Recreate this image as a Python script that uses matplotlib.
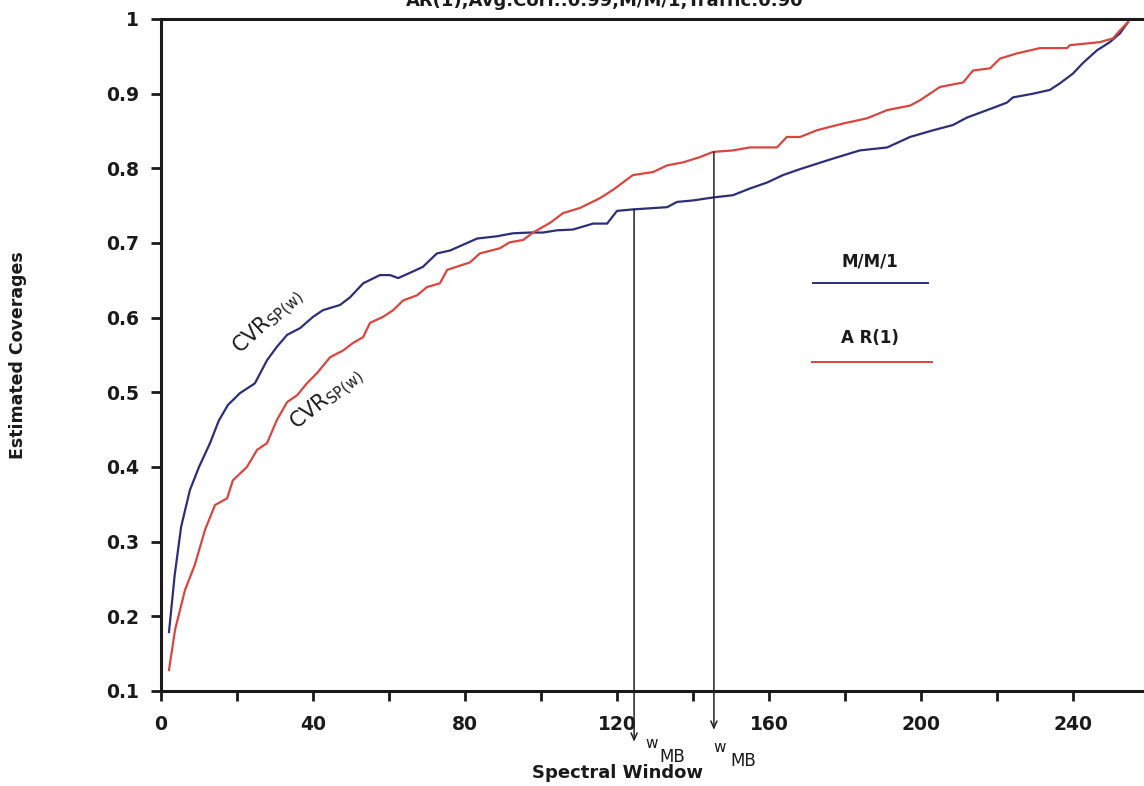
import matplotlib
matplotlib.use("Agg")
import matplotlib.pyplot as plt
import numpy as np

# M/M/1 estimated coverage vs spectral window
mm1_w = [2.1, 3.6, 5.3, 7.6, 10.0, 12.9, 15.2, 17.6, 20.8, 24.7, 27.9, 30.5, 33.2, 36.6,
         40.0, 42.6, 47.1, 49.7, 53.2, 57.6, 60.3, 62.4, 65.5, 68.9, 72.6, 76.1, 83.2,
         88.4, 92.6, 97.1, 100.5, 104.2, 108.4, 113.7, 117.4, 120.0, 124.2, 133.2,
         135.8, 140.0, 145.3, 150.5, 155.0, 159.5, 163.7, 168.2, 176.8, 183.9, 191.1,
         197.1, 203.2, 208.4, 212.1, 217.4, 222.6, 224.2, 229.5, 233.9, 236.6, 240.0,
         242.6, 246.3, 249.7, 252.4, 254.5]
mm1_cov = [0.179, 0.255, 0.320, 0.369, 0.400, 0.432, 0.462, 0.483, 0.499, 0.512, 0.543,
           0.561, 0.577, 0.586, 0.601, 0.610, 0.617, 0.627, 0.646, 0.657, 0.657, 0.653,
           0.660, 0.668, 0.686, 0.690, 0.706, 0.709, 0.713, 0.714, 0.714, 0.717, 0.718,
           0.726, 0.726, 0.743, 0.745, 0.748, 0.755, 0.757, 0.761, 0.764, 0.773, 0.781,
           0.791, 0.799, 0.813, 0.824, 0.828, 0.842, 0.851, 0.858, 0.868, 0.878, 0.888,
           0.895, 0.900, 0.905, 0.914, 0.927, 0.941, 0.958, 0.969, 0.981, 0.996]

# AR(1) estimated coverage vs spectral window
ar1_w = [2.1, 3.7, 6.3, 8.9, 11.6, 14.2, 17.4, 18.9, 22.6, 25.3, 27.9, 30.5, 33.2, 35.8,
         38.4, 41.1, 44.5, 47.9, 50.5, 53.2, 55.0, 58.4, 61.1, 63.7, 67.4, 70.0, 73.4,
         75.3, 81.3, 83.9, 89.2, 91.8, 95.3, 97.9, 102.4, 105.8, 110.3, 115.5, 118.9,
         124.2, 129.5, 133.2, 137.4, 141.8, 145.3, 150.5, 155.0, 162.1, 164.7, 168.2,
         172.6, 179.5, 185.8, 191.1, 197.1, 199.7, 205.0, 211.1, 213.7, 218.2, 220.8,
         225.3, 231.3, 238.4, 239.2, 247.1, 250.5, 252.4, 254.5]
ar1_cov = [0.128, 0.182, 0.235, 0.269, 0.316, 0.349, 0.358, 0.382, 0.400, 0.423, 0.432,
           0.463, 0.487, 0.496, 0.512, 0.526, 0.547, 0.556, 0.566, 0.574, 0.593, 0.601,
           0.610, 0.623, 0.630, 0.641, 0.646, 0.664, 0.674, 0.686, 0.693, 0.701, 0.704,
           0.714, 0.727, 0.740, 0.747, 0.760, 0.771, 0.791, 0.795, 0.804, 0.808, 0.815,
           0.822, 0.824, 0.828, 0.828, 0.842, 0.842, 0.851, 0.860, 0.867, 0.878, 0.884,
           0.891, 0.909, 0.915, 0.931, 0.934, 0.947, 0.954, 0.961, 0.961, 0.965, 0.969,
           0.974, 0.985, 0.996]

# Chosen windows (w_MB) for each model
mm1_wmb = 124.5
ar1_wmb = 145.5

x_ticks = [0, 40, 80, 120, 160, 200, 240]
y_ticks = [0.1, 0.2, 0.3, 0.4, 0.5, 0.6, 0.7, 0.8, 0.9, 1.0]
y_labels = ["0.1", "0.2", "0.3", "0.4", "0.5", "0.6", "0.7", "0.8", "0.9", "1"]

BLUE = "#2c2f78"
RED = "#d8463f"

plt.rcParams["mathtext.fontset"] = "dejavusans"

fig = plt.figure(figsize=(11.44, 7.86), dpi=100)
fig.patch.set_facecolor("white")
ax = fig.add_axes([161 / 1144, 1 - 691 / 786, 1 - 161 / 1144, (691 - 19) / 786])

ax.plot(mm1_w, mm1_cov, color=BLUE, lw=1.6, zorder=3)
ax.plot(ar1_w, ar1_cov, color=RED, lw=1.6, zorder=3)

ax.set_xlim(0, (1144 - 161) / 3.8)
ax.set_ylim(0.1, 1.0)

for s in ["left", "bottom", "top"]:
    ax.spines[s].set_linewidth(2.2)
    ax.spines[s].set_color("#1a1a1a")
ax.spines["right"].set_visible(False)

ax.set_xticks(np.arange(0, 260, 20), minor=True)
ax.set_xticks(x_ticks)
ax.set_xticklabels([str(t) for t in x_ticks])
ax.set_yticks(y_ticks)
ax.set_yticklabels(y_labels)
ax.tick_params(axis="both", which="both", direction="out", length=7, width=2,
               color="#1a1a1a")
ax.tick_params(axis="x", which="major", pad=10)
ax.tick_params(axis="y", which="major", pad=9)
for lab in ax.get_xticklabels() + ax.get_yticklabels():
    lab.set_fontweight("bold")
    lab.set_fontsize(13.5)
    lab.set_color("#1a1a1a")

# Title, running off the top edge of the page
fig.text(605 / 1144, 1 - 6 / 786, "AR(1),Avg.Corr.:0.99,M/M/1,Traffic:0.90",
         ha="center", va="baseline", fontsize=13, fontweight="bold", color="#1a1a1a")

fig.text(18 / 1144, 1 - 355 / 786, "Estimated Coverages", rotation=90,
         ha="center", va="center", fontsize=12.5, fontweight="bold", color="#1a1a1a")
fig.text(617 / 1144, 1 - 773 / 786, "Spectral Window", ha="center", va="center",
         fontsize=13, fontweight="bold", color="#1a1a1a")

# Curve labels
fig.text(268 / 1144, 1 - 322 / 786, r"CVR$_{\mathregular{SP(w)}}$", rotation=43,
         ha="center", va="center", fontsize=15, color="#1a1a1a")
fig.text(327 / 1144, 1 - 400 / 786, r"CVR$_{\mathregular{SP(w)}}$", rotation=39,
         ha="center", va="center", fontsize=15, color="#1a1a1a")

# Legend drawn by hand
fig.text(870 / 1144, 1 - 262 / 786, "M/M/1", ha="center", va="center",
         fontsize=12, fontweight="semibold", color="#1a1a1a")
fig.add_artist(plt.Line2D([813 / 1144, 928 / 1144], [1 - 283 / 786] * 2,
                          color=BLUE, lw=1.4))
fig.text(870 / 1144, 1 - 338 / 786, "A R(1)", ha="center", va="center",
         fontsize=12, fontweight="semibold", color="#1a1a1a")
fig.add_artist(plt.Line2D([812 / 1144, 932 / 1144], [1 - 362 / 786] * 2,
                          color=RED, lw=1.4))

# w_MB markers
mm1_top = np.interp(mm1_wmb, mm1_w, mm1_cov)
ar1_top = np.interp(ar1_wmb, ar1_w, ar1_cov)
for xw, ytop, ytip in [(mm1_wmb, mm1_top, 0.032), (ar1_wmb, ar1_top, 0.048)]:
    ax.annotate("", xy=(xw, ytip), xytext=(xw, ytop), annotation_clip=False,
                arrowprops=dict(arrowstyle="->,head_length=0.5,head_width=0.22",
                                color="#222222", lw=1.1, shrinkA=0, shrinkB=0))

fig.text(652 / 1144, 1 - 743 / 786, "w", ha="center", va="center", fontsize=11,
         color="#1a1a1a")
fig.text(672 / 1144, 1 - 757 / 786, "MB", ha="center", va="center", fontsize=12,
         color="#1a1a1a")
fig.text(720 / 1144, 1 - 748 / 786, "w", ha="center", va="center", fontsize=11,
         color="#1a1a1a")
fig.text(743 / 1144, 1 - 761 / 786, "MB", ha="center", va="center", fontsize=12,
         color="#1a1a1a")

fig.savefig("out.png", dpi=100, facecolor="white")
